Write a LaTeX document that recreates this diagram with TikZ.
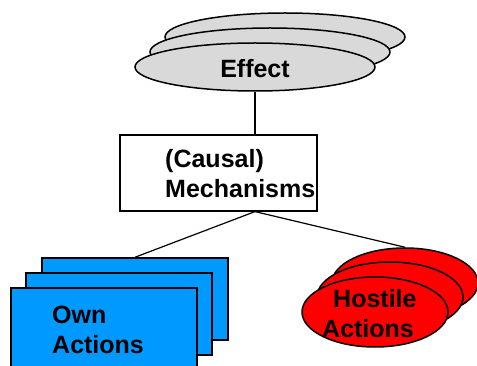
\documentclass[tikz,border=0pt]{standalone}
\usepackage{fontspec}
\setmainfont{Liberation Sans}
\usetikzlibrary{shapes.geometric,calc}
\definecolor{effgray}{HTML}{D9D9D9}
\definecolor{ownblue}{HTML}{0099FF}
\definecolor{hostred}{HTML}{FF0000}
\tikzset{
  lbl/.style={font=\fontsize{25}{30}\selectfont\bfseries, align=left, inner sep=0pt},
  effell/.style={ellipse, draw=black, line width=1.5pt, fill=effgray, minimum width=240pt, minimum height=48pt, inner sep=0pt},
  hostell/.style={ellipse, draw=black, line width=1.5pt, fill=hostred, minimum width=146pt, minimum height=70pt, inner sep=0pt},
  ownrect/.style={rectangle, draw=black, line width=1.5pt, fill=ownblue, minimum width=186pt, minimum height=82pt, inner sep=0pt},
  mechbox/.style={rectangle, draw=black, line width=1.2pt, fill=white, minimum width=197pt, minimum height=76pt, inner sep=0pt},
  link/.style={draw=black, line width=1.2pt}
}
\begin{document}
\begin{tikzpicture}[x=1pt,y=-1pt]
\useasboundingbox (0,0) rectangle (477,366);
\clip (0,0) rectangle (477,366);
\fill[white] (0,0) rectangle (477,366);

% Effect: a stack of three ellipses
\node[effell] (eff3) at (285,37) {};
\node[effell] (eff2) at (270,52) {};
\node[effell] (eff1) at (255,67) {};
\node[lbl] (efftxt) at (255,69) {Effect};

% Mechanisms box
\node[mechbox] (mech) at (218.5,173) {};
\node[lbl, anchor=west] (mechtxt) at (165,174) {(Causal)\\Mechanisms};

% Connectors
\draw[link] (eff1.south) -- (eff1.south |- mech.north);
\coordinate (mbot) at (eff1.south |- mech.south);

% Own actions: a stack of three rectangles
\node[ownrect] (own3) at (135,299) {};
\node[ownrect] (own2) at (119,314) {};
\node[ownrect] (own1) at (104,329) {};
\node[lbl, anchor=west] (owntxt) at (52,330) {Own\\Actions};

% Hostile actions: a stack of three ellipses
\node[hostell] (host3) at (405,283) {};
\node[hostell] (host2) at (390,297) {};
\node[hostell] (host1) at (375,312) {};
\node[lbl, anchor=west] (hosttxt) at (322,314) {\hspace*{11pt}Hostile\\Actions};

\draw[link] (mbot) -- (own3.north);
\draw[link] (mbot) -- (host3.north);
\end{tikzpicture}
\end{document}
